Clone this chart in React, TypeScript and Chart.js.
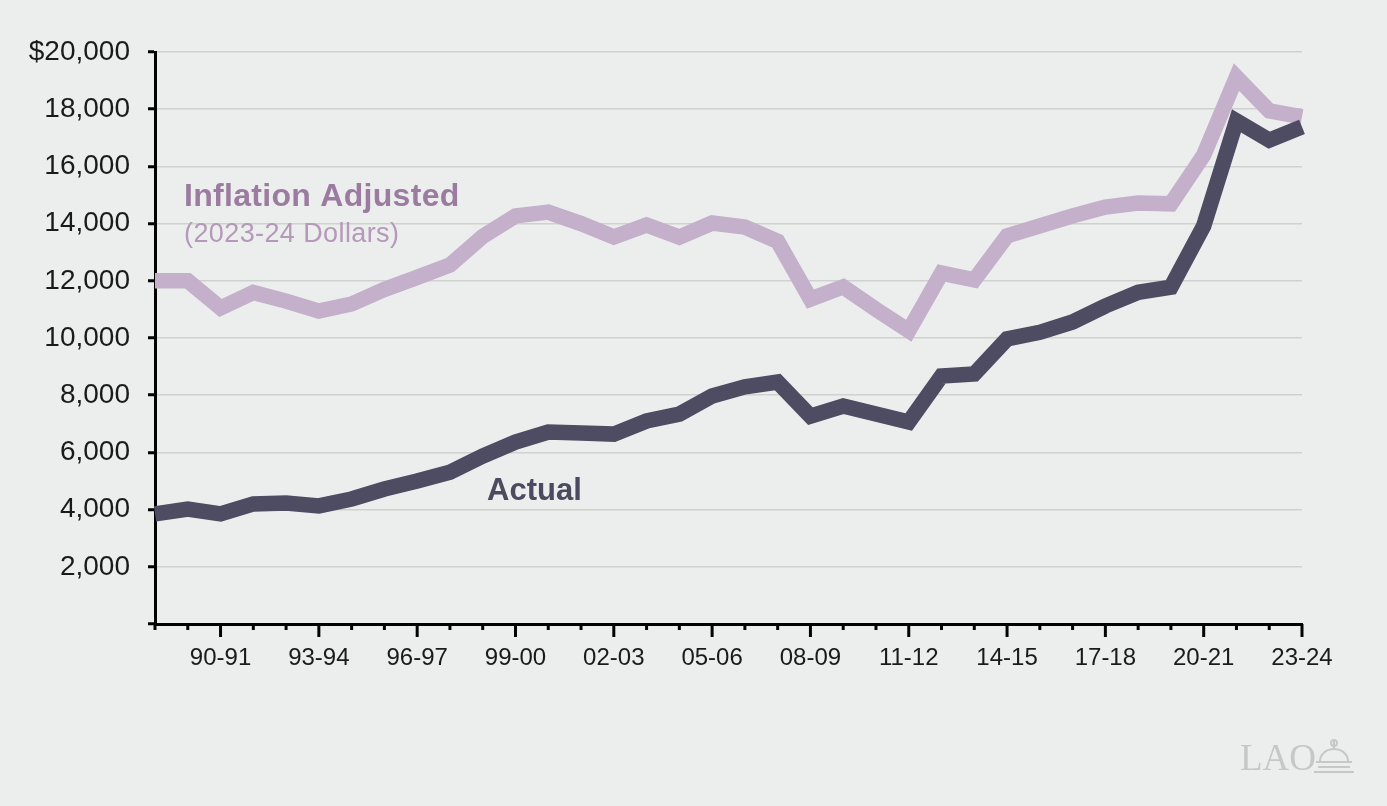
import React, { useEffect, useRef } from "react";
import { Chart, registerables } from "chart.js";

Chart.register(...registerables);

const categories = [
  "88-89", "89-90", "90-91", "91-92", "92-93", "93-94", "94-95", "95-96", "96-97",
  "97-98", "98-99", "99-00", "00-01", "01-02", "02-03", "03-04", "04-05", "05-06",
  "06-07", "07-08", "08-09", "09-10", "10-11", "11-12", "12-13", "13-14", "14-15",
  "15-16", "16-17", "17-18", "18-19", "19-20", "20-21", "21-22", "22-23", "23-24",
];

const actual = [
  3850, 4020, 3850, 4200, 4230, 4130, 4370, 4720, 5000,
  5310, 5870, 6360, 6710, 6680, 6640, 7100, 7340, 7970,
  8290, 8460, 7270, 7620, 7340, 7060, 8670, 8740, 9970,
  10200, 10560, 11120, 11600, 11780, 13920, 17590, 16920, 17380,
];

const inflationAdjusted = [
  12000, 12000, 11050, 11590, 11290, 10940, 11190, 11700, 12120,
  12550, 13550, 14270, 14400, 14000, 13530, 13950, 13530, 14020,
  13880, 13380, 11360, 11790, 11000, 10250, 12270, 12030, 13570,
  13920, 14270, 14580, 14720, 14690, 16400, 19120, 17940, 17730,
];

const yTickValues = [0, 2000, 4000, 6000, 8000, 10000, 12000, 14000, 16000, 18000, 20000];
const yTickLabels = ["", "2,000", "4,000", "6,000", "8,000", "10,000", "12,000", "14,000", "16,000", "18,000", "$20,000"];

const FONT = "'Liberation Sans', Arial, Helvetica, sans-serif";
const BG = "#ECEEED";

const overlayPlugin = {
  id: "overlay",
  afterDraw(chart: any) {
    const ctx = chart.ctx;
    const x = chart.scales.x;
    const area = chart.chartArea;
    ctx.save();
    // x-axis tick marks: short every year, long every third
    ctx.strokeStyle = "#000";
    ctx.lineWidth = 3;
    for (let i = 0; i < categories.length; i++) {
      const px = x.getPixelForValue(i);
      const len = i % 3 === 2 ? 13 : 6;
      ctx.beginPath();
      ctx.moveTo(px, area.bottom);
      ctx.lineTo(px, area.bottom + len);
      ctx.stroke();
    }
    // annotations
    ctx.textAlign = "left";
    ctx.textBaseline = "alphabetic";
    ctx.fillStyle = "#9B7B9F";
    ctx.font = `bold 32px ${FONT}`;
    (ctx as any).letterSpacing = "0.3px";
    ctx.fillText("Inflation Adjusted", area.left + 29, area.top + 154);
    ctx.fillStyle = "#B499B8";
    ctx.font = `27px ${FONT}`;
    (ctx as any).letterSpacing = "0.4px";
    ctx.fillText("(2023-24 Dollars)", area.left + 29, area.top + 190);
    ctx.fillStyle = "#4B4A5F";
    ctx.font = `bold 31px ${FONT}`;
    (ctx as any).letterSpacing = "0px";
    ctx.fillText("Actual", area.left + 332, area.top + 448);

    // LAO logo
    ctx.fillStyle = "#C6C8C7";
    ctx.font = `37px 'Liberation Serif', 'Times New Roman', serif`;
    ctx.fillText("LAO", 1240, 770);
    ctx.strokeStyle = "#C6C8C7";
    ctx.lineWidth = 2;
    ctx.beginPath();
    ctx.ellipse(1334, 761, 14, 12, 0, Math.PI, 2 * Math.PI);
    ctx.stroke();
    ctx.beginPath();
    ctx.moveTo(1316, 762);
    ctx.lineTo(1352, 762);
    ctx.moveTo(1318, 767);
    ctx.lineTo(1350, 767);
    ctx.moveTo(1314, 772);
    ctx.lineTo(1354, 772);
    ctx.moveTo(1334, 749);
    ctx.lineTo(1334, 741);
    ctx.stroke();
    ctx.beginPath();
    ctx.arc(1334, 743, 3, 0, Math.PI * 2);
    ctx.stroke();
    ctx.restore();
  },
};

export default function App() {
  const ref = useRef<HTMLCanvasElement | null>(null);

  useEffect(() => {
    if (!ref.current) return;
    const chart = new Chart(ref.current, {
      type: "line",
      data: {
        labels: categories,
        datasets: [
          {
            label: "Actual",
            data: actual,
            borderColor: "#4D4C62",
            borderWidth: 15.5,
            pointRadius: 0,
            tension: 0,
            fill: false,
            borderCapStyle: "butt",
            borderJoinStyle: "miter",
          },
          {
            label: "Inflation Adjusted",
            data: inflationAdjusted,
            borderColor: "#C4B0CA",
            borderWidth: 15.5,
            pointRadius: 0,
            tension: 0,
            fill: false,
            borderCapStyle: "butt",
            borderJoinStyle: "miter",
          },
        ],
      },
      options: {
        animation: false,
        responsive: false,
        maintainAspectRatio: false,
        layout: { padding: { left: 0, right: 85, top: 52, bottom: 0 } },
        plugins: {
          legend: { display: false },
          tooltip: { enabled: false },
        },
        scales: {
          x: {
            type: "category",
            offset: false,
            grid: { display: false, drawTicks: false },
            border: { display: true, color: "#000", width: 3 },
            ticks: {
              autoSkip: false,
              maxRotation: 0,
              minRotation: 0,
              padding: 20,
              color: "#1A1A1A",
              font: { family: FONT, size: 24 },
              callback: (_v: any, i: number) => (i % 3 === 2 ? categories[i] : ""),
            },
            afterFit: (s: any) => {
              s.height = 182;
            },
          },
          y: {
            min: 0,
            max: 20000,
            afterBuildTicks: (s: any) => {
              s.ticks = yTickValues.map((v) => ({ value: v }));
            },
            grid: {
              color: "#CFD1D0",
              lineWidth: 1.5,
              drawTicks: true,
              tickLength: 7,
              tickColor: "#000",
              tickWidth: 3,
            },
            border: { display: true, color: "#000", width: 3 },
            ticks: {
              padding: 18,
              color: "#1A1A1A",
              font: { family: FONT, size: 28 },
              callback: (_v: any, i: number) => yTickLabels[i],
            },
            afterFit: (s: any) => {
              s.width = 155;
            },
          },
        },
      },
      plugins: [overlayPlugin],
    });
    return () => chart.destroy();
  }, []);

  return (
    <div style={{ position: "fixed", left: 0, top: 0, width: 1387, height: 806, background: BG }}>
      <canvas ref={ref} width={1387} height={806} style={{ display: "block" }} />
    </div>
  );
}
